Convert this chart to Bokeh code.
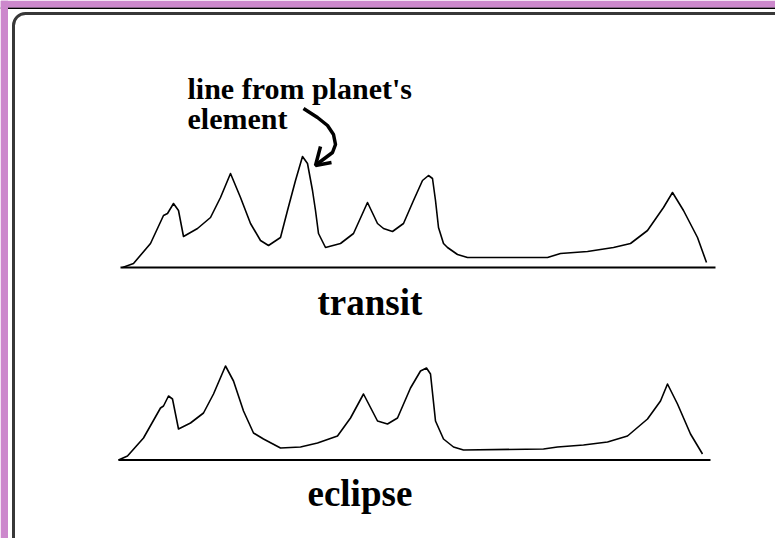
from bokeh.plotting import figure
from bokeh.models import Range1d, BoxAnnotation
from bokeh.core.properties import value
from bokeh.embed import file_html
from bokeh.resources import INLINE

# ---- data (x offset along baseline, height above baseline) ----
transit_x = [2, 13, 30, 43, 47, 53, 58, 63, 77, 90, 100, 110, 120, 130, 140, 148, 160, 167, 175, 182,
             187, 192, 195, 198, 205, 220, 233, 247, 257, 263, 272, 283, 293, 302, 308, 312, 315, 318,
             323, 327, 337, 347, 427, 440, 467, 493, 510, 527, 543, 552, 563, 577, 586]
transit_h = [0, 4, 24, 52, 54, 64, 57, 31, 39, 50, 70, 94, 70, 44, 27, 22, 30, 57, 87, 111,
             104, 77, 57, 34, 20, 24, 34, 65, 44, 39, 36, 44, 67, 87, 92, 89, 67, 40,
             24, 20, 13, 10, 10, 14, 16, 20, 24, 37, 60, 75, 57, 30, 5]

eclipse_x = [0, 9, 25, 42, 45, 50, 54, 60, 72, 85, 95, 107, 115, 125, 135, 145, 162, 182, 199, 219,
             232, 245, 259, 269, 279, 292, 302, 308, 312, 317, 325, 335, 345, 425, 439, 465, 489, 509,
             529, 542, 549, 559, 572, 584]
eclipse_h = [0, 4, 22, 52, 54, 64, 61, 31, 37, 47, 66, 94, 79, 49, 27, 21, 12, 13, 17, 24,
             42, 66, 39, 36, 42, 72, 89, 92, 86, 39, 21, 13, 10, 11, 13, 15, 18, 24,
             41, 59, 76, 56, 26, 6]

labels = ["transit", "eclipse"]
annotation = ["line from planet's", "element"]

# ---- layout (page pixels -> data) ----
W, H = 775, 538
def X(px):
    return px
def Y(py):
    return H - py

p = figure(width=W, height=H, output_backend="svg", toolbar_location=None,
           x_range=Range1d(0, W), y_range=Range1d(0, H), min_border=0)
p.axis.visible = False
p.xgrid.visible = False
p.ygrid.visible = False
p.outline_line_color = None
p.background_fill_color = "white"
p.border_fill_color = "white"

PURPLE = "#cc88cc"
# purple page edges
p.add_layout(BoxAnnotation(left=X(0), right=X(7.5), top=Y(0), bottom=Y(H),
                           fill_color=PURPLE, fill_alpha=1, line_alpha=0))
p.add_layout(BoxAnnotation(left=X(0), right=X(W), top=Y(0), bottom=Y(7),
                           fill_color=PURPLE, fill_alpha=1, line_alpha=0))
# dark rule under the top band
p.line([X(0), X(W)], [Y(7.7), Y(7.7)], line_color="black", line_width=1.8)

# rounded frame
p.add_layout(BoxAnnotation(left=X(13), right=X(800), top=Y(13), bottom=Y(560),
                           fill_alpha=0, line_color="#383838", line_width=3,
                           line_alpha=1, border_radius=12))

panels = [
    dict(x0=120, base=267, x1=715, xs=transit_x, hs=transit_h, label=labels[0], lx=317, ly=302),
    dict(x0=118, base=459.5, x1=710, xs=eclipse_x, hs=eclipse_h, label=labels[1], lx=307, ly=493),
]
for pn in panels:
    xs = [X(pn["x0"]) + v for v in pn["xs"]]
    ys = [Y(pn["base"]) + h for h in pn["hs"]]
    p.line([X(pn["x0"]), X(pn["x1"])], [Y(pn["base"]), Y(pn["base"])],
           line_color="black", line_width=2)
    p.line(xs, ys, line_color="black", line_width=1.6, line_join="round")
    p.text(x=[X(pn["lx"])], y=[Y(pn["ly"])], text=[pn["label"]],
           text_font=value("Liberation Serif"), text_font_style="bold",
           text_font_size="37px", text_baseline="alphabetic", text_align="left",
           text_color="black")

# annotation text
p.text(x=[X(187), X(187)], y=[Y(88), Y(118)], text=annotation,
       text_font=value("Liberation Serif"), text_font_style="bold",
       text_font_size="30px", text_baseline="alphabetic", text_align="left",
       text_color="black")

# hand-drawn arrow
arrow_px = [303, 317, 327, 333, 335, 332, 324, 316]
arrow_py = [108, 117, 125, 134, 144, 152, 158, 164]
p.line([X(v) for v in arrow_px], [Y(v) for v in arrow_py], line_color="black", line_width=3.5)
p.line([X(320), X(315), X(331)], [Y(146), Y(165), Y(162)], line_color="black", line_width=3.5)

open("out.html", "w").write(file_html(p, INLINE))
